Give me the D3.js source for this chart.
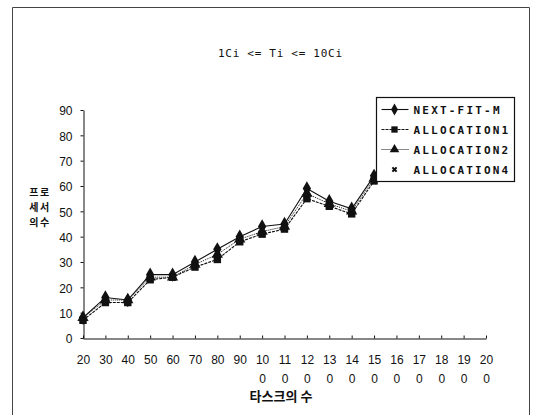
<!DOCTYPE html>
<html>
<head>
<meta charset="utf-8">
<script src="https://cdn.jsdelivr.net/npm/d3@7/dist/d3.min.js"></script>
<style>
  html, body { margin: 0; padding: 0; background: #fff; }
  svg { display: block; }
  .tick text { font-family: "Liberation Sans Narrow", "Liberation Sans", Arial, sans-serif; font-size: 12px; fill: #111; }
</style>
</head>
<body>
<svg id="chart" width="538" height="415"></svg>
<script>
// Number of tasks (x categories) and processors needed per algorithm
const categories = [20, 30, 40, 50, 60, 70, 80, 90, 100, 110, 120, 130, 140, 150, 160, 170, 180, 190, 200];
const nextFitM    = [8, 16, 15, 25, 25, 30, 35, 40, 44, 45, 59, 54, 51, 64];
const allocation1 = [7, 14, 14, 23, 24, 28, 31, 38, 41, 43, 55, 52, 49, 62];
const allocation2 = [8, 15, 15, 24, 24, 29, 33, 39, 42, 44, 57, 53, 50, 63];
const allocation4 = [7, 14, 14, 23, 24, 28, 32, 38, 41, 43, 56, 52, 49, 62];
const yTicks = [0, 10, 20, 30, 40, 50, 60, 70, 80, 90];
const seriesNames = ["NEXT-FIT-M", "ALLOCATION1", "ALLOCATION2", "ALLOCATION4"];

const svg = d3.select("#chart");

// Outer chart frame (open at the bottom)
const frame = svg.append("g").attr("stroke", "#444").attr("stroke-width", 1).attr("fill", "none");
frame.append("line").attr("x1", 12.5).attr("y1", 7.5).attr("x2", 529.5).attr("y2", 7.5);
frame.append("line").attr("x1", 12.5).attr("y1", 7.5).attr("x2", 12.5).attr("y2", 415);
frame.append("line").attr("x1", 529.5).attr("y1", 7.5).attr("x2", 529.5).attr("y2", 415);

// Title
svg.append("text")
  .attr("x", 280).attr("y", 57)
  .attr("text-anchor", "middle")
  .attr("font-family", "'DejaVu Sans Mono', monospace")
  .attr("font-size", 11)
  .attr("textLength", 124)
  .attr("fill", "#111")
  .text("1Ci <= Ti <= 10Ci");

const x = d3.scalePoint().domain(categories).range([83, 486]);
const y = d3.scaleLinear().domain([0, 90]).range([338, 110]);

// Y axis
const yAxis = svg.append("g")
  .attr("transform", "translate(83.5,0)")
  .call(d3.axisLeft(y).tickValues(yTicks).tickSize(3).tickPadding(8).tickSizeOuter(0));
yAxis.select(".domain").attr("stroke", "#111");
yAxis.selectAll(".tick line").attr("stroke", "#111");
yAxis.selectAll(".tick text").attr("dy", "0.4em");

// X axis with two-line labels for 3-digit values
const xAxis = svg.append("g")
  .attr("transform", "translate(0,338.5)")
  .call(d3.axisBottom(x).tickSize(-3).tickSizeOuter(0).tickFormat(""));
xAxis.select(".domain").attr("stroke", "#111");
xAxis.selectAll(".tick line").attr("stroke", "#111");
xAxis.selectAll(".tick").each(function(d) {
  const s = String(d);
  const t = d3.select(this).select("text").text(null).attr("y", 0).attr("dy", null);
  const first = s.length > 2 ? s.slice(0, 2) : s;
  t.append("tspan").attr("x", 0).attr("y", 25).text(first);
  if (s.length > 2) t.append("tspan").attr("x", 0).attr("y", 44).text(s.slice(2));
});

// Axis titles
svg.append("text")
  .attr("x", 281).attr("y", 401)
  .attr("text-anchor", "middle")
  .attr("font-family", "'Noto Sans CJK KR', sans-serif")
  .attr("font-weight", "bold")
  .attr("font-size", 13)
  .attr("fill", "#111")
  .text("타스크의 수");

const yTitle = svg.append("g")
  .attr("font-family", "'Noto Sans CJK KR', sans-serif")
  .attr("font-weight", "bold")
  .attr("font-size", 10)
  .attr("fill", "#111")
  .attr("text-anchor", "middle");
["프로", "세서", "의수"].forEach((s, i) => {
  yTitle.append("text").attr("x", 40).attr("y", 196 + i * 15).attr("letter-spacing", 1.5).text(s);
});

// Series styles
const styles = [
  { data: nextFitM,    dash: null,  width: 1.1, line: true,  marker: d3.symbolDiamond,  size: 60 },
  { data: allocation1, dash: "3,1", width: 1.1, line: true,  marker: d3.symbolSquare,   size: 55 },
  { data: allocation2, dash: "1,1", width: 1,   line: true,  marker: d3.symbolTriangle, size: 55 },
  { data: allocation4, dash: null,  width: 1,   line: false, marker: d3.symbolCross,    size: 30 }
];

const line = d3.line().x((d, i) => x(categories[i])).y(d => y(d));
const plot = svg.append("g");
styles.forEach(s => {
  if (s.line) {
    plot.append("path")
      .attr("d", line(s.data))
      .attr("fill", "none")
      .attr("stroke", "#111")
      .attr("stroke-width", s.width)
      .attr("stroke-dasharray", s.dash);
  }
});
styles.forEach(s => {
  plot.selectAll(null).data(s.data).enter().append("path")
    .attr("transform", (d, i) => `translate(${x(categories[i])},${y(d)})` + (s.marker === d3.symbolCross ? " rotate(45)" : ""))
    .attr("d", d3.symbol(s.marker, s.size))
    .attr("fill", "#111");
});

// Legend
const legend = svg.append("g").attr("transform", "translate(376.5,97.5)");
legend.append("rect").attr("width", 138).attr("height", 84).attr("fill", "#fff").attr("stroke", "#111").attr("stroke-width", 1.2);
styles.forEach((s, i) => {
  const ly = 12 + i * 20;
  if (s.line) {
    legend.append("line").attr("x1", 5).attr("x2", 32).attr("y1", ly).attr("y2", ly)
      .attr("stroke", "#111").attr("stroke-width", s.width).attr("stroke-dasharray", s.dash);
  }
  legend.append("path")
    .attr("transform", `translate(18,${ly})` + (s.marker === d3.symbolCross ? " rotate(45)" : ""))
    .attr("d", d3.symbol(s.marker, s.marker === d3.symbolCross ? 20 : 40))
    .attr("fill", "#111");
  legend.append("text")
    .attr("x", 37).attr("y", ly + 4)
    .attr("font-family", "'DejaVu Sans Mono', monospace")
    .attr("font-weight", "bold")
    .attr("font-size", 11)
    .attr("textLength", seriesNames[i].length * 8.6)
    .attr("fill", "#111")
    .text(seriesNames[i]);
});
</script>
</body>
</html>
